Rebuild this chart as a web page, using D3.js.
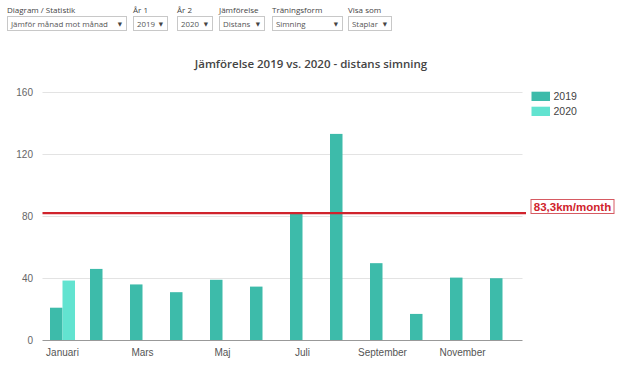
<!DOCTYPE html>
<html>
<head>
<meta charset="utf-8">
<title>Jämförelse 2019 vs. 2020 - distans simning</title>
<script src="https://d3js.org/d3.v7.min.js"></script>
<style>
  body { margin: 0; background: #fff; }
</style>
</head>
<body>
<svg id="chart" width="620" height="369"></svg>
<script>
// data
var months = ["Januari", "Februari", "Mars", "April", "Maj", "Juni", "Juli", "Augusti", "September", "Oktober", "November", "December"];
var years = ["2019", "2020"];
var values2019 = [21, 46, 36, 31, 39, 34.6, 81.5, 133, 49.7, 17, 40.4, 40];
var values2020 = [38.5, null, null, null, null, null, null, null, null, null, null, null];
var yTicks = [0, 40, 80, 120, 160];
var avgLine = 82;
var avgLabel = "83,3km/month";
var controls = [
  {label: "Diagram / Statistik", value: "Jämför månad mot månad"},
  {label: "År 1", value: "2019"},
  {label: "År 2", value: "2020"},
  {label: "Jämförelse", value: "Distans"},
  {label: "Träningsform", value: "Simning"},
  {label: "Visa som", value: "Staplar"}
];
var controlX = [7, 133, 177, 219, 272, 348];
var controlW = [119, 34, 35, 45, 70, 43];

var colors = {"2019": "#3dbbaa", "2020": "#62e3d0"};

var svg = d3.select("#chart");

// top controls
controls.forEach(function (c, i) {
  var g = svg.append("g").attr("transform", "translate(" + controlX[i] + ",0)");
  g.append("text").attr("x", 0).attr("y", 12.5)
    .attr("font-family", "Open Sans").attr("font-size", 8).attr("fill", "#444")
    .text(c.label);
  g.append("rect").attr("x", 0.5).attr("y", 16.5).attr("width", controlW[i]).attr("height", 14)
    .attr("fill", "#fff").attr("stroke", "#c8c8c8");
  g.append("text").attr("x", 4).attr("y", 26.6)
    .attr("font-family", "Open Sans").attr("font-size", 7.9).attr("fill", "#555")
    .text(c.value);
  g.append("text").attr("x", controlW[i] - 4).attr("y", 26)
    .attr("text-anchor", "end")
    .attr("font-family", "DejaVu Sans").attr("font-size", 5.5).attr("fill", "#444")
    .text("▼");
});

// title
svg.append("text").attr("x", 311).attr("y", 68).attr("text-anchor", "middle")
  .attr("font-family", "Open Sans").attr("font-size", 11.5).attr("font-weight", 600).attr("fill", "#444")
  .text("Jämförelse 2019 vs. 2020 - distans simning");

var x0 = d3.scaleBand().domain(months).range([42.5, 522.5]).paddingInner(0.375).paddingOuter(0.1875);
var x1 = d3.scaleBand().domain(years).range([0, x0.bandwidth()]);
var y = d3.scaleLinear().domain([0, 160]).range([340.3, 92]);

// grid
svg.append("g").selectAll("line").data(yTicks.filter(function (d) { return d > 0; })).join("line")
  .attr("x1", 42.5).attr("x2", 522.5)
  .attr("y1", function (d) { return Math.round(y(d)) + 0.5; })
  .attr("y2", function (d) { return Math.round(y(d)) + 0.5; })
  .attr("stroke", "#e3e3e3");

// y labels
svg.append("g").selectAll("text").data(yTicks).join("text")
  .attr("x", 33).attr("y", function (d) { return y(d) + 3.5; })
  .attr("text-anchor", "end")
  .attr("font-family", "Liberation Sans").attr("font-size", 10).attr("fill", "#666")
  .text(function (d) { return d; });

// bars
var barData = [];
months.forEach(function (m, i) {
  if (values2019[i] != null) barData.push({month: m, year: "2019", value: values2019[i]});
  if (values2020[i] != null) barData.push({month: m, year: "2020", value: values2020[i]});
});
svg.append("g").selectAll("rect").data(barData).join("rect")
  .attr("x", function (d) { return x0(d.month) + x1(d.year); })
  .attr("width", x1.bandwidth())
  .attr("y", function (d) { return y(d.value); })
  .attr("height", function (d) { return y(0) - y(d.value); })
  .attr("fill", function (d) { return colors[d.year]; });

// x axis line
svg.append("line").attr("x1", 42.5).attr("x2", 522.5).attr("y1", 340.5).attr("y2", 340.5)
  .attr("stroke", "#999");

// x labels, every other month
svg.append("g").selectAll("text").data(months.filter(function (d, i) { return i % 2 === 0; })).join("text")
  .attr("x", function (d) { return x0(d) + x0.bandwidth() / 2; })
  .attr("y", 355.5)
  .attr("text-anchor", "middle")
  .attr("font-family", "Liberation Sans").attr("font-size", 10).attr("fill", "#555")
  .text(function (d) { return d; });

// average line
svg.append("line").attr("x1", 42.5).attr("x2", 526)
  .attr("y1", y(avgLine)).attr("y2", y(avgLine))
  .attr("stroke", "#d0232c").attr("stroke-width", 2.2);
svg.append("rect").attr("x", 531).attr("y", 199.5).attr("width", 83).attr("height", 14)
  .attr("fill", "#fff").attr("stroke", "#d65a62").attr("stroke-width", 1);
svg.append("text").attr("x", 572.5).attr("y", 210.5).attr("text-anchor", "middle")
  .attr("font-family", "Liberation Sans").attr("font-size", 11.5).attr("font-weight", "bold").attr("fill", "#d0232c")
  .text(avgLabel);

// legend
var legend = svg.append("g").selectAll("g").data(years).join("g")
  .attr("transform", function (d, i) { return "translate(531.5," + (91.7 + i * 15) + ")"; });
legend.append("rect").attr("width", 18.5).attr("height", 9.3)
  .attr("fill", function (d) { return colors[d]; });
legend.append("text").attr("x", 22).attr("y", 8.5)
  .attr("font-family", "Liberation Sans").attr("font-size", 10.5).attr("fill", "#444")
  .text(function (d) { return d; });
</script>
</body>
</html>
